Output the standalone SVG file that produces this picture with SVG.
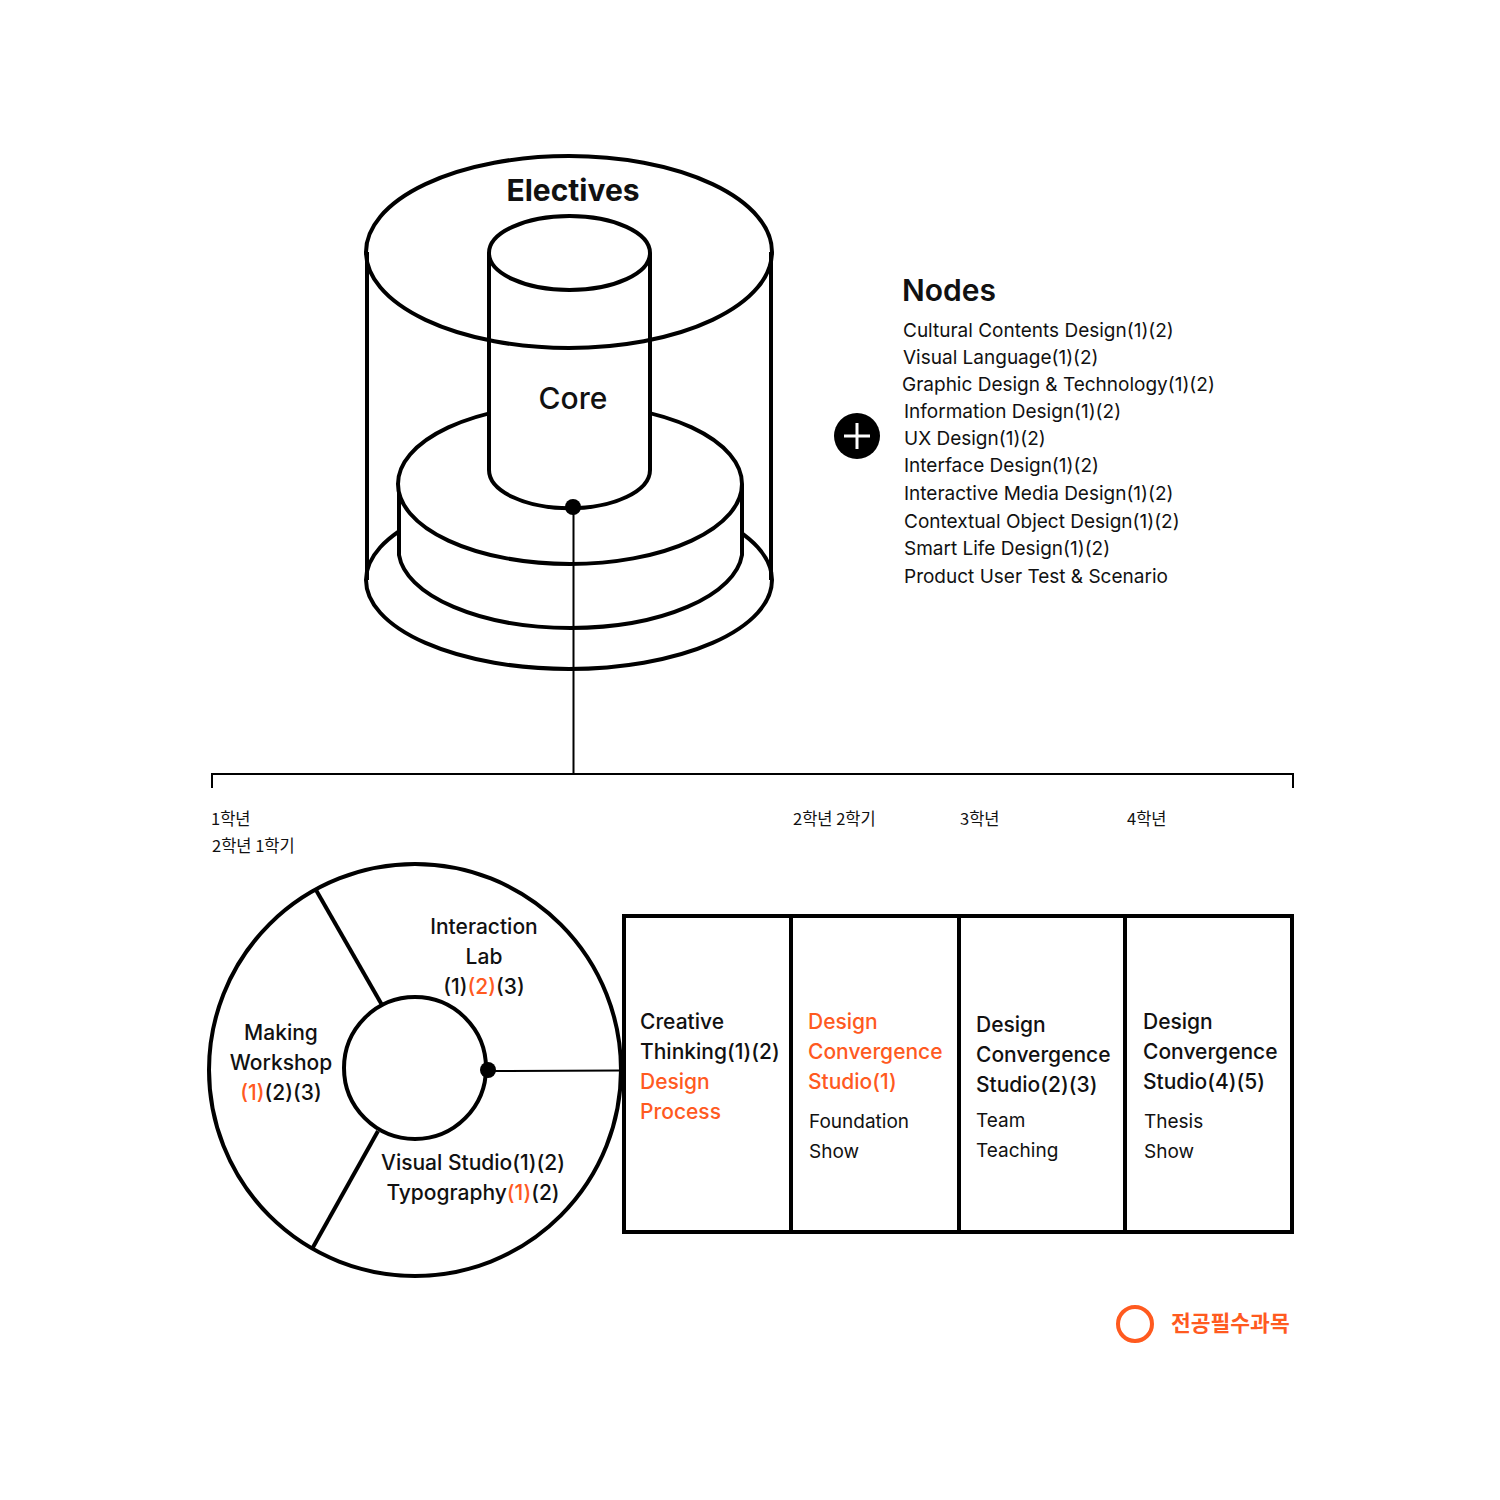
<svg xmlns="http://www.w3.org/2000/svg" width="1500" height="1500" viewBox="0 0 1500 1500">
<style>
.ln{fill:none;stroke:#000;stroke-width:4}
.wf{fill:#fff;stroke:#000;stroke-width:4}
.t{font-family:Inter,"Noto Sans","Noto Sans CJK KR",sans-serif;fill:#111}
.kr{font-family:"Noto Sans CJK KR",sans-serif;font-size:16.5px;fill:#111}
.or{fill:#FF5A1F}
.m{font-size:21px;font-weight:500}
.s{font-size:19px;font-weight:400}
.n{font-size:19px;font-weight:400}
</style>
<rect width="1500" height="1500" fill="#fff"/>
<g id="cylinder">
  <ellipse class="ln" cx="569" cy="580" rx="203" ry="89"/>
  <path class="wf" d="M399 484 L399 555 A172 79 0 0 0 742 555 L742 484"/>
  <ellipse class="wf" cx="570" cy="484" rx="172" ry="80"/>
  <path fill="#fff" d="M489 253 L489 470 A80 38 0 0 0 650 470 L650 253 Z"/>
  <path class="ln" d="M489 253 L489 470 A80 38 0 0 0 650 470 L650 253"/>
  <ellipse class="ln" cx="569.5" cy="253" rx="80.5" ry="37"/>
  <ellipse class="ln" cx="569" cy="252" rx="203" ry="96"/>
  <line class="ln" x1="367" y1="252" x2="367" y2="580"/>
  <line class="ln" x1="771" y1="252" x2="771" y2="580"/>
  <text class="t" x="573" y="201" text-anchor="middle" font-size="30" font-weight="700">Electives</text>
  <text class="t" x="573" y="409" text-anchor="middle" font-size="30" font-weight="500">Core</text>
</g>
<g id="nodes-list">
  <circle cx="857" cy="436" r="23" fill="#000"/>
  <path d="M844 436 H870 M857 423 V449" stroke="#fff" stroke-width="3"/>
  <text class="t" x="902" y="301" font-size="30" font-weight="600">Nodes</text>
  <g class="t n">
    <text x="903" y="337">Cultural Contents Design(1)(2)</text>
    <text x="903" y="364">Visual Language(1)(2)</text>
    <text x="902" y="391">Graphic Design &amp; Technology(1)(2)</text>
    <text x="904" y="418">Information Design(1)(2)</text>
    <text x="904" y="445">UX Design(1)(2)</text>
    <text x="904" y="472">Interface Design(1)(2)</text>
    <text x="904" y="500">Interactive Media Design(1)(2)</text>
    <text x="904" y="528">Contextual Object Design(1)(2)</text>
    <text x="904" y="555">Smart Life Design(1)(2)</text>
    <text x="904" y="583">Product User Test &amp; Scenario</text>
  </g>
</g>
<g id="connectors">
  <circle cx="573" cy="507" r="8" fill="#000"/>
  <line x1="573.5" y1="507" x2="573.5" y2="774" stroke="#000" stroke-width="2"/>
  <path d="M212 788 V774 H1293 V788" fill="none" stroke="#000" stroke-width="2"/>
  <circle cx="488" cy="1070" r="8" fill="#000"/>
  <line x1="488" y1="1071" x2="622" y2="1070.5" stroke="#000" stroke-width="2"/>
</g>
<g id="years">
  <text class="kr" x="211" y="825">1학년</text>
  <text class="kr" x="212" y="852">2학년 1학기</text>
  <text class="kr" x="793" y="825">2학년 2학기</text>
  <text class="kr" x="960" y="825">3학년</text>
  <text class="kr" x="1127" y="825">4학년</text>
</g>
<g id="circle-diagram">
  <circle class="ln" cx="415" cy="1070" r="206"/>
  <circle class="ln" cx="415" cy="1068" r="71"/>
  <line class="ln" x1="316" y1="890" x2="382" y2="1005"/>
  <line class="ln" x1="378" y1="1131" x2="312" y2="1249"/>
  <g class="t m" text-anchor="middle">
    <text x="484" y="934">Interaction</text>
    <text x="484" y="964">Lab</text>
    <text x="484" y="994">(1)<tspan class="or">(2)</tspan>(3)</text>
    <text x="281" y="1040">Making</text>
    <text x="281" y="1070">Workshop</text>
    <text x="281" y="1100"><tspan class="or">(1)</tspan>(2)(3)</text>
    <text x="473" y="1170">Visual Studio(1)(2)</text>
    <text x="473" y="1200">Typography<tspan class="or">(1)</tspan>(2)</text>
  </g>
</g>
<g id="table">
  <rect x="624" y="916" width="668" height="316" fill="none" stroke="#000" stroke-width="4"/>
  <line class="ln" x1="791" y1="916" x2="791" y2="1232"/>
  <line class="ln" x1="959" y1="916" x2="959" y2="1232"/>
  <line class="ln" x1="1125" y1="916" x2="1125" y2="1232"/>
  <g class="t m" font-size="20.5">
    <text x="640" y="1029">Creative</text>
    <text x="640" y="1059">Thinking(1)(2)</text>
    <text x="640" y="1089" class="or">Design</text>
    <text x="640" y="1119" class="or">Process</text>
    <text x="808" y="1029" class="or">Design</text>
    <text x="808" y="1059" class="or">Convergence</text>
    <text x="808" y="1089" class="or">Studio(1)</text>
    <text x="976" y="1032">Design</text>
    <text x="976" y="1062">Convergence</text>
    <text x="976" y="1092">Studio(2)(3)</text>
    <text x="1143" y="1029">Design</text>
    <text x="1143" y="1059">Convergence</text>
    <text x="1143" y="1089">Studio(4)(5)</text>
  </g>
  <g class="t s">
    <text x="809" y="1128">Foundation</text>
    <text x="809" y="1158">Show</text>
    <text x="976" y="1127">Team</text>
    <text x="976" y="1157">Teaching</text>
    <text x="1144" y="1128">Thesis</text>
    <text x="1144" y="1158">Show</text>
  </g>
</g>
<g id="legend">
  <circle cx="1135" cy="1324" r="17" fill="none" stroke="#FF5A1F" stroke-width="4"/>
  <text x="1171" y="1331" font-family="'Noto Sans CJK KR',sans-serif" font-size="21.5" font-weight="700" fill="#FF5A1F">전공필수과목</text>
</g>
</svg>
